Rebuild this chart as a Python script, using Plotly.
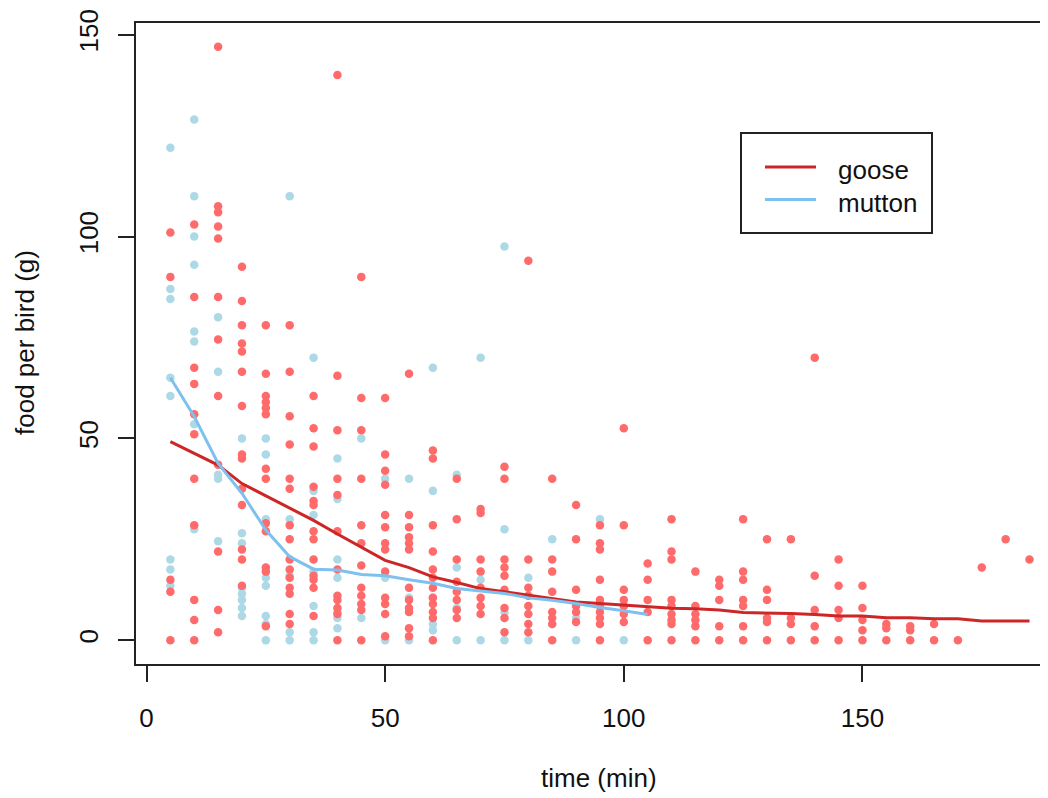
import plotly.graph_objects as go

# ---------------- data ----------------
goose_time = (
    [5] * 5 + [10] * 11 + [15] * 12 + [20] * 14 + [25] * 13 + [30] * 15 + [35] * 13
    + [40] * 12 + [45] * 12 + [50] * 13 + [55] * 12 + [60] * 12 + [65] * 8 + [70] * 8
    + [75] * 9 + [80] * 8 + [85] * 8 + [90] * 6 + [95] * 10 + [100] * 7 + [105] * 5
    + [110] * 9 + [115] * 6 + [120] * 5 + [125] * 7 + [130] * 6 + [135] * 4 + [140] * 5
    + [145] * 5 + [150] * 5 + [155] * 3 + [160] * 3 + [165] * 2 + [170] * 1 + [175] * 1
    + [180] * 1 + [185] * 1
)
goose_food = [
    101, 90, 15, 12, 0,
    103, 85, 67.5, 63.5, 56, 51, 40, 28.5, 10, 5, 0,
    147, 107.5, 106, 102.5, 99.5, 85, 74.5, 60.5, 43.5, 22, 7.5, 2,
    92.5, 84, 78, 73.5, 71.5, 66.5, 58, 46, 45, 37.5, 33.5, 22.5, 20, 13.5,
    78, 66, 60.5, 59, 57.5, 56, 42.5, 40, 29, 27, 18, 17, 3.5,
    78, 66.5, 55.5, 48.5, 40, 37.5, 28.5, 25, 20, 17.5, 15.5, 13, 11.5, 6.5, 4,
    60.5, 52.5, 48, 38, 34.5, 33.5, 27, 25, 20, 16, 15, 13, 6,
    140, 65.5, 52, 40, 36, 27, 17.5, 11, 10, 8, 6.5, 0,
    90, 60, 52, 40, 28.5, 24, 18.5, 13, 11, 9, 7.5, 0,
    60, 46, 42, 38.5, 31, 28, 24, 22.5, 17, 10.5, 9, 6.5, 1,
    66, 31, 28, 25.5, 24, 22.5, 13, 10, 8, 7, 3, 1,
    47, 45, 28.5, 22, 17.5, 15.5, 13, 10.5, 9, 7, 5.5, 0,
    40, 30, 20, 14.5, 12, 10, 7.5, 5.5,
    32.5, 31.5, 20, 17, 13, 10.5, 8.5, 6.5,
    43, 40, 20, 18, 16, 12.5, 8, 5.5, 2,
    94, 20, 13, 11, 8.5, 6.5, 4, 2,
    40, 20, 17, 12, 7, 5.5, 4, 0,
    33.5, 25, 12.5, 8.5, 7, 4.5,
    28.5, 24, 22.5, 15, 10, 8.5, 7, 5.5, 4, 0,
    52.5, 28.5, 12.5, 10, 8.5, 6.5, 4.5,
    19, 15, 10, 7, 0,
    30, 22, 20, 10, 8.5, 6.5, 5, 4, 0,
    17, 8.5, 6.5, 5, 3.5, 0,
    15, 13.5, 10, 3.5, 0,
    30, 17, 15, 10, 8.5, 3.5, 0,
    25, 12.5, 10, 5.5, 4.5, 0,
    25, 5.5, 4, 0,
    70, 16, 7.5, 3.5, 0,
    20, 13.5, 7.5, 5.5, 0,
    13.5, 8, 5, 2.5, 0,
    4, 3, 0,
    3.5, 2.5, 0,
    4, 0,
    0,
    18,
    25,
    20,
]

mutton_time = (
    [5] * 8 + [10] * 8 + [15] * 5 + [20] * 8 + [25] * 8 + [30] * 5 + [35] * 7 + [40] * 7
    + [45] * 2 + [50] * 3 + [55] * 3 + [60] * 5 + [65] * 4 + [70] * 3 + [75] * 4 + [80] * 2
    + [85] * 2 + [90] * 2 + [95] * 1 + [100] * 1
)
mutton_food = [
    122, 87, 84.5, 65, 60.5, 20, 17.5, 13.5,
    129, 110, 100, 93, 76.5, 74, 53.5, 27.5,
    80, 66.5, 41, 40, 24.5,
    50, 26.5, 24, 13, 11.5, 10, 8, 6,
    50, 46, 30, 15.5, 13.5, 6, 4, 0,
    110, 30, 16, 2, 0,
    70, 37, 31, 17, 8.5, 2, 0,
    45, 35, 20, 15.5, 7, 5.5, 3,
    50, 5.5,
    40, 15.5, 0,
    40, 10.5, 0,
    67.5, 37, 10.5, 4, 2.5,
    41, 18, 8, 0,
    70, 15, 0,
    97.5, 27.5, 7, 0,
    15.5, 0,
    25, 4,
    5.5, 0,
    30,
    0,
]

goose_line_time = list(range(5, 190, 5))
goose_line_food = [49.2, 46.2, 43.4, 38.8, 35.7, 32.6, 29.7, 26.3, 23.1, 19.8, 18.0, 15.7,
                   14.3, 12.8, 12.0, 11.2, 10.4, 9.5, 9.1, 8.7, 8.3, 7.9, 7.8, 7.5, 6.9,
                   6.8, 6.6, 6.4, 6.0, 6.0, 5.6, 5.6, 5.3, 5.3, 4.8, 4.8, 4.8]
mutton_line_time = list(range(5, 110, 5))
mutton_line_food = [65.0, 55.4, 43.8, 36.4, 27.3, 20.7, 17.6, 17.4, 16.3, 16.0, 15.0, 14.1,
                    12.8, 12.2, 11.6, 10.5, 9.9, 9.1, 8.1, 7.3, 6.4]

x_ticks = [0, 50, 100, 150]
y_ticks = [0, 50, 100, 150]
legend_labels = ["goose", "mutton"]

# ---------------- style ----------------
# the page body adds an 8px margin, so the figure is drawn 8px smaller
OFF = 8
W, H = 1048 - OFF, 798 - OFF
ML, MR, MT, MB = 136 - OFF, 0, 23 - OFF, 798 - 664
PX_PER_X = 4.773
X0 = -2.2
X1 = X0 + (W - ML - MR) / PX_PER_X
Y0, Y1 = -5.88, 152.88

GOOSE_PT = "#FF6A6A"
MUTTON_PT = "#ADD8E6"
GOOSE_LN = "#CD2626"
MUTTON_LN = "#7EC0EE"
FONT = "Liberation Sans, Arial, sans-serif"
FS = 26

pw = W - ML - MR
ph = H - MT - MB


def px_x(p):
    """reference-image pixel x -> paper coordinate"""
    return (p - OFF - ML) / pw


def px_y(p):
    """reference-image pixel y -> paper coordinate"""
    return (H - MB - (p - OFF)) / ph


fig = go.Figure()
fig.add_trace(go.Scatter(x=mutton_time, y=mutton_food, mode="markers",
                         marker=dict(color=MUTTON_PT, size=8.5, line=dict(width=0)),
                         showlegend=False, hoverinfo="x+y"))
fig.add_trace(go.Scatter(x=goose_time, y=goose_food, mode="markers",
                         marker=dict(color=GOOSE_PT, size=8.5, line=dict(width=0)),
                         showlegend=False, hoverinfo="x+y"))
fig.add_trace(go.Scatter(x=goose_line_time, y=goose_line_food, mode="lines",
                         line=dict(color=GOOSE_LN, width=3), showlegend=False))
fig.add_trace(go.Scatter(x=mutton_line_time, y=mutton_line_food, mode="lines",
                         line=dict(color=MUTTON_LN, width=3), showlegend=False))

axis_common = dict(showgrid=False, zeroline=False, showline=True, linecolor="#222",
                   linewidth=2, ticks="outside", ticklen=16, tickwidth=1.5,
                   tickcolor="#222", tickfont=dict(family=FONT, size=FS, color="#111"))

fig.update_xaxes(range=[X0, X1], tickvals=x_ticks, ticktext=[str(v) for v in x_ticks],
                 mirror=True, ticklabelstandoff=14, **axis_common)
fig.update_yaxes(range=[Y0, Y1], tickvals=y_ticks, ticktext=[str(v) for v in y_ticks],
                 tickangle=-90, ticklabelstandoff=10, **axis_common)

annotations = [
    dict(text="time (min)", xref="paper", yref="paper", x=px_x(599), y=px_y(778),
         xanchor="center", yanchor="middle", showarrow=False,
         font=dict(family=FONT, size=FS, color="#111")),
    dict(text="food per bird (g)", xref="paper", yref="paper", x=px_x(25), y=px_y(343),
         xanchor="center", yanchor="middle", textangle=-90, showarrow=False,
         font=dict(family=FONT, size=FS, color="#111")),
]
shapes = [
    dict(type="rect", xref="paper", yref="paper", x0=px_x(741), x1=px_x(932),
         y0=px_y(233), y1=px_y(133), line=dict(color="#222", width=2),
         fillcolor="white", layer="above"),
]
for i, (lab, col) in enumerate(zip(legend_labels, [GOOSE_LN, MUTTON_LN])):
    yy = 167 + 32.5 * i
    shapes.append(dict(type="line", xref="paper", yref="paper", x0=px_x(765), x1=px_x(816),
                       y0=px_y(yy), y1=px_y(yy), line=dict(color=col, width=3),
                       layer="above"))
    annotations.append(dict(text=lab, xref="paper", yref="paper", x=px_x(836),
                            y=px_y(yy + 3), xanchor="left", yanchor="middle",
                            showarrow=False,
                            font=dict(family=FONT, size=FS, color="#111")))

fig.update_layout(width=W, height=H, margin=dict(l=ML, r=MR, t=MT, b=MB, pad=0),
                  plot_bgcolor="white", paper_bgcolor="white",
                  annotations=annotations, shapes=shapes, showlegend=False)

fig.write_html("out.html")
